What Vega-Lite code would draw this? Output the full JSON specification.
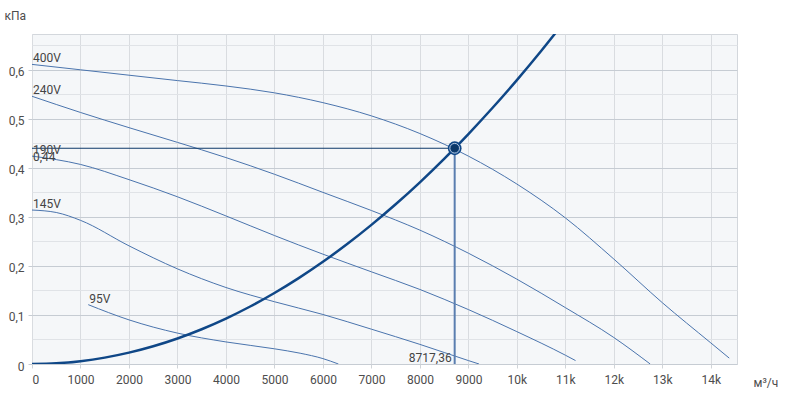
{
  "$schema": "https://vega.github.io/schema/vega-lite/v6.json",
  "autosize": {"type": "none"},
  "padding": {"left": 32, "top": 34, "right": 48, "bottom": 32},
  "width": 705,
  "height": 330,
  "background": "#ffffff",
  "config": {
    "view": {"fill": "#f5f7f9", "stroke": "#d3d7dc"},
    "font": "Roboto",
    "text": {"font": "Roboto", "fontSize": 12, "color": "#444444"}
  },
  "datasets": {
    "curves": [
      {"series": "400V", "q": 0, "p": 0.611},
      {"series": "400V", "q": 1000, "p": 0.600},
      {"series": "400V", "q": 2000, "p": 0.589},
      {"series": "400V", "q": 3000, "p": 0.578},
      {"series": "400V", "q": 4000, "p": 0.567},
      {"series": "400V", "q": 5000, "p": 0.553},
      {"series": "400V", "q": 6000, "p": 0.533},
      {"series": "400V", "q": 7000, "p": 0.506},
      {"series": "400V", "q": 8000, "p": 0.470},
      {"series": "400V", "q": 9000, "p": 0.424},
      {"series": "400V", "q": 10000, "p": 0.367},
      {"series": "400V", "q": 11000, "p": 0.298},
      {"series": "400V", "q": 12000, "p": 0.214},
      {"series": "400V", "q": 13000, "p": 0.125},
      {"series": "400V", "q": 14000, "p": 0.043},
      {"series": "400V", "q": 14380, "p": 0.012},
      {"series": "240V", "q": 0, "p": 0.546},
      {"series": "240V", "q": 1000, "p": 0.513},
      {"series": "240V", "q": 2000, "p": 0.482},
      {"series": "240V", "q": 3000, "p": 0.452},
      {"series": "240V", "q": 4000, "p": 0.421},
      {"series": "240V", "q": 5000, "p": 0.387},
      {"series": "240V", "q": 6000, "p": 0.350},
      {"series": "240V", "q": 7000, "p": 0.313},
      {"series": "240V", "q": 8000, "p": 0.273},
      {"series": "240V", "q": 9000, "p": 0.226},
      {"series": "240V", "q": 10000, "p": 0.173},
      {"series": "240V", "q": 11000, "p": 0.115},
      {"series": "240V", "q": 12000, "p": 0.054},
      {"series": "240V", "q": 12750, "p": 0.0},
      {"series": "190V", "q": 0, "p": 0.424},
      {"series": "190V", "q": 1000, "p": 0.407},
      {"series": "190V", "q": 2000, "p": 0.376},
      {"series": "190V", "q": 3000, "p": 0.341},
      {"series": "190V", "q": 4000, "p": 0.302},
      {"series": "190V", "q": 5000, "p": 0.262},
      {"series": "190V", "q": 6000, "p": 0.224},
      {"series": "190V", "q": 7000, "p": 0.188},
      {"series": "190V", "q": 8000, "p": 0.152},
      {"series": "190V", "q": 9000, "p": 0.111},
      {"series": "190V", "q": 10000, "p": 0.066},
      {"series": "190V", "q": 11000, "p": 0.018},
      {"series": "190V", "q": 11210, "p": 0.007},
      {"series": "145V", "q": 0, "p": 0.314},
      {"series": "145V", "q": 500, "p": 0.309},
      {"series": "145V", "q": 1000, "p": 0.293},
      {"series": "145V", "q": 2000, "p": 0.241},
      {"series": "145V", "q": 3000, "p": 0.194},
      {"series": "145V", "q": 4000, "p": 0.156},
      {"series": "145V", "q": 5000, "p": 0.127},
      {"series": "145V", "q": 6000, "p": 0.101},
      {"series": "145V", "q": 7000, "p": 0.071},
      {"series": "145V", "q": 8000, "p": 0.040},
      {"series": "145V", "q": 9000, "p": 0.007},
      {"series": "145V", "q": 9220, "p": 0.0},
      {"series": "95V", "q": 1160, "p": 0.121},
      {"series": "95V", "q": 2000, "p": 0.090},
      {"series": "95V", "q": 3000, "p": 0.063},
      {"series": "95V", "q": 4000, "p": 0.045},
      {"series": "95V", "q": 5000, "p": 0.031},
      {"series": "95V", "q": 5530, "p": 0.022},
      {"series": "95V", "q": 6000, "p": 0.011},
      {"series": "95V", "q": 6320, "p": 0.0}
    ],
    "system": [
      {"q": 0, "p": 0},
      {"q": 500, "p": 0.00145},
      {"q": 1000, "p": 0.00579},
      {"q": 1500, "p": 0.01303},
      {"q": 2000, "p": 0.02316},
      {"q": 2500, "p": 0.03619},
      {"q": 3000, "p": 0.05211},
      {"q": 3500, "p": 0.07093},
      {"q": 4000, "p": 0.09264},
      {"q": 4500, "p": 0.11725},
      {"q": 5000, "p": 0.14475},
      {"q": 5500, "p": 0.17515},
      {"q": 6000, "p": 0.20844},
      {"q": 6500, "p": 0.24463},
      {"q": 7000, "p": 0.28371},
      {"q": 7500, "p": 0.32569},
      {"q": 8000, "p": 0.37056},
      {"q": 8500, "p": 0.41833},
      {"q": 8717.36, "p": 0.44},
      {"q": 9000, "p": 0.46900},
      {"q": 9500, "p": 0.52256},
      {"q": 10000, "p": 0.57901},
      {"q": 10500, "p": 0.63836},
      {"q": 11000, "p": 0.70061}
    ],
    "labels": [
      {"label": "400V", "q": 0, "p": 0.611},
      {"label": "240V", "q": 0, "p": 0.546},
      {"label": "190V", "q": 0, "p": 0.424},
      {"label": "145V", "q": 0, "p": 0.314},
      {"label": "95V", "q": 1160, "p": 0.121}
    ],
    "op": [
      {"q": 8717.36, "p": 0.44, "qLabel": "8717,36", "pLabel": "0,44"}
    ]
  },
  "encoding": {
    "x": {
      "field": "q", "type": "quantitative",
      "scale": {"domain": [0, 14540], "nice": false, "zero": false},
      "axis": {
        "values": [0, 1000, 2000, 3000, 4000, 5000, 6000, 7000, 8000, 9000, 10000, 11000, 12000, 13000, 14000],
        "labelExpr": "datum.value >= 10000 ? (datum.value / 1000) + 'k' : datum.value + ''",
        "domain": false,
        "grid": true, "gridColor": "#d9dce0", "gridWidth": 1,
        "ticks": true, "tickSize": 4, "tickColor": "#d0d4d8",
        "labelPadding": 6, "labelFontSize": 12, "labelColor": "#4d4d4d", "labelFont": "Roboto",
        "title": "м³/ч", "titleX": 721, "titleY": 22, "titleAlign": "left", "titleBaseline": "alphabetic",
        "titleFontWeight": "normal", "titleFontSize": 12, "titleColor": "#4d4d4d", "titleFont": "Roboto"
      }
    },
    "y": {
      "field": "p", "type": "quantitative",
      "scale": {"domain": [0, 0.673], "nice": false, "zero": false},
      "axis": {
        "values": [0, 0.05, 0.1, 0.15, 0.2, 0.25, 0.3, 0.35, 0.4, 0.45, 0.5, 0.55, 0.6, 0.65],
        "labelExpr": "round(datum.value * 20) % 2 == 0 ? replace(format(datum.value, '.1~f'), '.', ',') : ''",
        "domain": false,
        "grid": true,
        "gridColor": {"condition": {"test": "round(datum.value * 20) % 2 == 0", "value": "#c6ccd3"}, "value": "#e0e3e7"},
        "ticks": true, "tickSize": 4,
        "tickColor": {"condition": {"test": "round(datum.value * 20) % 2 == 0", "value": "#c6ccd3"}, "value": "rgba(0,0,0,0)"},
        "labelPadding": 4, "labelFontSize": 12, "labelColor": "#4d4d4d", "labelFont": "Roboto", "labelOffset": 2,
        "title": "кПа", "titleAngle": 0, "titleX": -28, "titleY": -15, "titleAlign": "left", "titleBaseline": "alphabetic",
        "titleFontWeight": "normal", "titleFontSize": 12, "titleColor": "#4d4d4d", "titleFont": "Roboto"
      }
    }
  },
  "layer": [
    {
      "data": {"name": "curves"},
      "mark": {"type": "line", "interpolate": "monotone", "color": "#4a74ad", "strokeWidth": 1, "clip": true},
      "encoding": {"detail": {"field": "series"}}
    },
    {
      "data": {"name": "op"},
      "mark": {"type": "rule", "color": "#0c3868", "strokeWidth": 1.2},
      "encoding": {"x": {"datum": 0}, "x2": {"field": "q"}}
    },
    {
      "data": {"name": "op"},
      "mark": {"type": "rule", "color": "#5a7eb0", "strokeWidth": 2},
      "encoding": {"y": {"datum": 0}, "y2": {"field": "p"}}
    },
    {
      "data": {"name": "system"},
      "mark": {"type": "line", "interpolate": "monotone", "color": "#0f4787", "strokeWidth": 2.5, "clip": true},
      "encoding": {}
    },
    {
      "data": {"name": "op"},
      "mark": {"type": "circle", "size": 190, "color": "#0f4787", "opacity": 1},
      "encoding": {}
    },
    {
      "data": {"name": "op"},
      "mark": {"type": "point", "shape": "circle", "size": 95, "filled": false, "stroke": "#b8c8dc", "strokeWidth": 1, "opacity": 1},
      "encoding": {}
    },
    {
      "data": {"name": "op"},
      "mark": {"type": "circle", "size": 55, "color": "#0c3868", "opacity": 1},
      "encoding": {}
    },
    {
      "data": {"name": "labels"},
      "mark": {"type": "text", "align": "left", "baseline": "alphabetic", "dx": 1, "dy": -2, "fontSize": 12, "color": "#444444"},
      "encoding": {"text": {"field": "label"}}
    },
    {
      "data": {"name": "op"},
      "mark": {"type": "text", "align": "left", "baseline": "top", "dx": 1, "dy": 4, "fontSize": 12, "color": "#444444"},
      "encoding": {"x": {"datum": 0}, "text": {"field": "pLabel"}}
    },
    {
      "data": {"name": "op"},
      "mark": {"type": "text", "align": "right", "baseline": "alphabetic", "dx": -3, "dy": -2, "fontSize": 12, "color": "#444444"},
      "encoding": {"y": {"datum": 0}, "text": {"field": "qLabel"}}
    }
  ]
}
